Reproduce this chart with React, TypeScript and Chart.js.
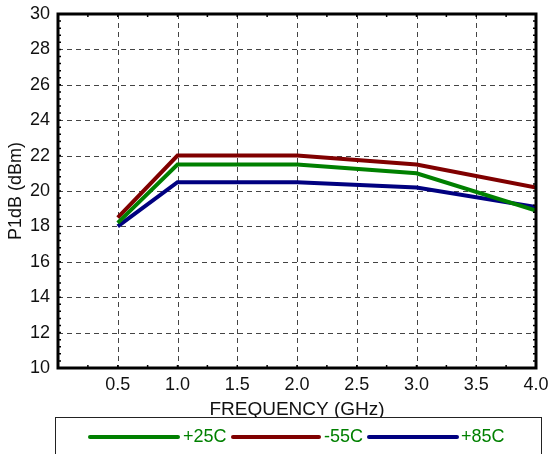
import React, { useEffect, useRef } from "react";
import { Chart, registerables } from "chart.js";

Chart.register(...registerables);

const frequencies = [0.5, 1.0, 2.0, 3.0, 4.0];
const p25 = [18.2, 21.5, 21.5, 21.0, 18.9];
const m55 = [18.5, 22.0, 22.0, 21.5, 20.2];
const p85 = [18.0, 20.5, 20.5, 20.2, 19.1];
const seriesLabels = ["+25C", "-55C", "+85C"];
const seriesColors = ["#008000", "#800000", "#000080"];
const xTitle = "FREQUENCY (GHz)";
const yTitle = "P1dB (dBm)";

const FONT = "'Liberation Sans', Arial, sans-serif";

const decorPlugin = {
  id: "decor",
  beforeDatasetsDraw(chart: any) {
    const { ctx, chartArea: a, scales } = chart;
    const xs = scales.x;
    const ys = scales.y;
    ctx.save();
    ctx.strokeStyle = "#444";
    ctx.lineWidth = 1;
    ctx.setLineDash([5, 4]);
    for (let v = 0.5; v < 4; v += 0.5) {
      const px = Math.round(xs.getPixelForValue(v)) + 0.5;
      ctx.beginPath();
      ctx.moveTo(px, a.top);
      ctx.lineTo(px, a.bottom);
      ctx.stroke();
    }
    for (let v = 12; v < 30; v += 2) {
      const py = Math.round(ys.getPixelForValue(v)) + 0.5;
      ctx.beginPath();
      ctx.moveTo(a.left, py);
      ctx.lineTo(a.right, py);
      ctx.stroke();
    }
    ctx.restore();
  },
  afterDraw(chart: any) {
    const { ctx, chartArea: a, scales } = chart;
    const xs = scales.x;
    const ys = scales.y;
    ctx.save();
    // minor ticks
    ctx.strokeStyle = "#000";
    ctx.lineWidth = 1.5;
    ctx.setLineDash([]);
    for (let i = 1; i < 16; i++) {
      const v = i * 0.25;
      const px = xs.getPixelForValue(v);
      ctx.beginPath();
      ctx.moveTo(px, a.bottom);
      ctx.lineTo(px, a.bottom - 3);
      ctx.moveTo(px, a.top);
      ctx.lineTo(px, a.top + 3);
      ctx.stroke();
    }
    for (let i = 1; i < 50; i++) {
      const v = 10 + i * 0.4;
      const py = ys.getPixelForValue(v);
      ctx.beginPath();
      ctx.moveTo(a.left, py);
      ctx.lineTo(a.left + 3, py);
      ctx.moveTo(a.right, py);
      ctx.lineTo(a.right - 3, py);
      ctx.stroke();
    }
    // frame
    ctx.lineWidth = 3;
    ctx.strokeRect(a.left, a.top, a.right - a.left, a.bottom - a.top);

    // titles
    ctx.fillStyle = "#111";
    ctx.font = `19px ${FONT}`;
    ctx.textAlign = "center";
    ctx.textBaseline = "alphabetic";
    ctx.fillText(xTitle, (a.left + a.right) / 2, 415);
    ctx.save();
    ctx.translate(16, (a.top + a.bottom) / 2);
    ctx.rotate(-Math.PI / 2);
    ctx.font = `18px ${FONT}`;
    ctx.textBaseline = "middle";
    ctx.fillText(yTitle, 0, 0);
    ctx.restore();

    // legend box
    ctx.fillStyle = "#fff";
    ctx.fillRect(55, 417, 486, 60);
    ctx.strokeStyle = "#222";
    ctx.lineWidth = 1;
    ctx.strokeRect(55.5, 417.5, 486, 60);
    const items = [
      { x1: 90, x2: 178, tx: 183 },
      { x1: 233, x2: 319, tx: 324 },
      { x1: 369, x2: 457, tx: 461 },
    ];
    ctx.font = `18px ${FONT}`;
    ctx.textAlign = "left";
    ctx.textBaseline = "middle";
    items.forEach((it, i) => {
      ctx.strokeStyle = seriesColors[i];
      ctx.lineWidth = 4;
      ctx.lineCap = "round";
      ctx.beginPath();
      ctx.moveTo(it.x1, 437);
      ctx.lineTo(it.x2, 437);
      ctx.stroke();
      ctx.fillStyle = "#008000";
      ctx.fillText(seriesLabels[i], it.tx, 437);
    });
    ctx.restore();
  },
};

export default function App() {
  const ref = useRef<HTMLCanvasElement | null>(null);
  useEffect(() => {
    if (!ref.current) return;
    const mk = (vals: number[]) => frequencies.map((f, i) => ({ x: f, y: vals[i] }));
    const data = [p25, m55, p85];
    const zeroPad = (s: any) => {
      s.paddingLeft = 0;
      s.paddingRight = 0;
      s.paddingTop = 0;
      s.paddingBottom = 0;
    };
    const chart = new Chart(ref.current, {
      type: "line",
      data: {
        datasets: data.map((vals, i) => ({
          label: seriesLabels[i],
          data: mk(vals),
          borderColor: seriesColors[i],
          backgroundColor: seriesColors[i],
          borderWidth: 4,
          pointRadius: 0,
          tension: 0,
        })),
      },
      options: {
        responsive: false,
        animation: false,
        layout: { padding: { top: 14, right: 13, left: 0, bottom: 0 } },
        plugins: { legend: { display: false }, tooltip: { enabled: false } },
        scales: {
          x: {
            type: "linear",
            min: 0,
            max: 4,
            afterFit: (s: any) => {
              s.height = 86;
              zeroPad(s);
            },
            grid: { display: false, drawTicks: false },
            border: { display: false },
            ticks: {
              stepSize: 0.5,
              autoSkip: false,
              maxRotation: 0,
              padding: 6,
              color: "#111",
              font: { family: FONT, size: 18 },
              callback: (v: any) => (Number(v) === 0 ? "" : Number(v).toFixed(1)),
            },
          },
          y: {
            min: 10,
            max: 30,
            afterFit: (s: any) => {
              s.width = 58;
              zeroPad(s);
            },
            grid: { display: false, drawTicks: false },
            border: { display: false },
            ticks: {
              stepSize: 2,
              padding: 8,
              color: "#111",
              font: { family: FONT, size: 18 },
            },
          },
        },
      },
      plugins: [decorPlugin],
    });
    return () => chart.destroy();
  }, []);
  return (
    <div style={{ position: "fixed", left: 0, top: 0, width: 549, height: 454, background: "#fff" }}>
      <canvas ref={ref} width={549} height={454} style={{ width: 549, height: 454 }} />
    </div>
  );
}
